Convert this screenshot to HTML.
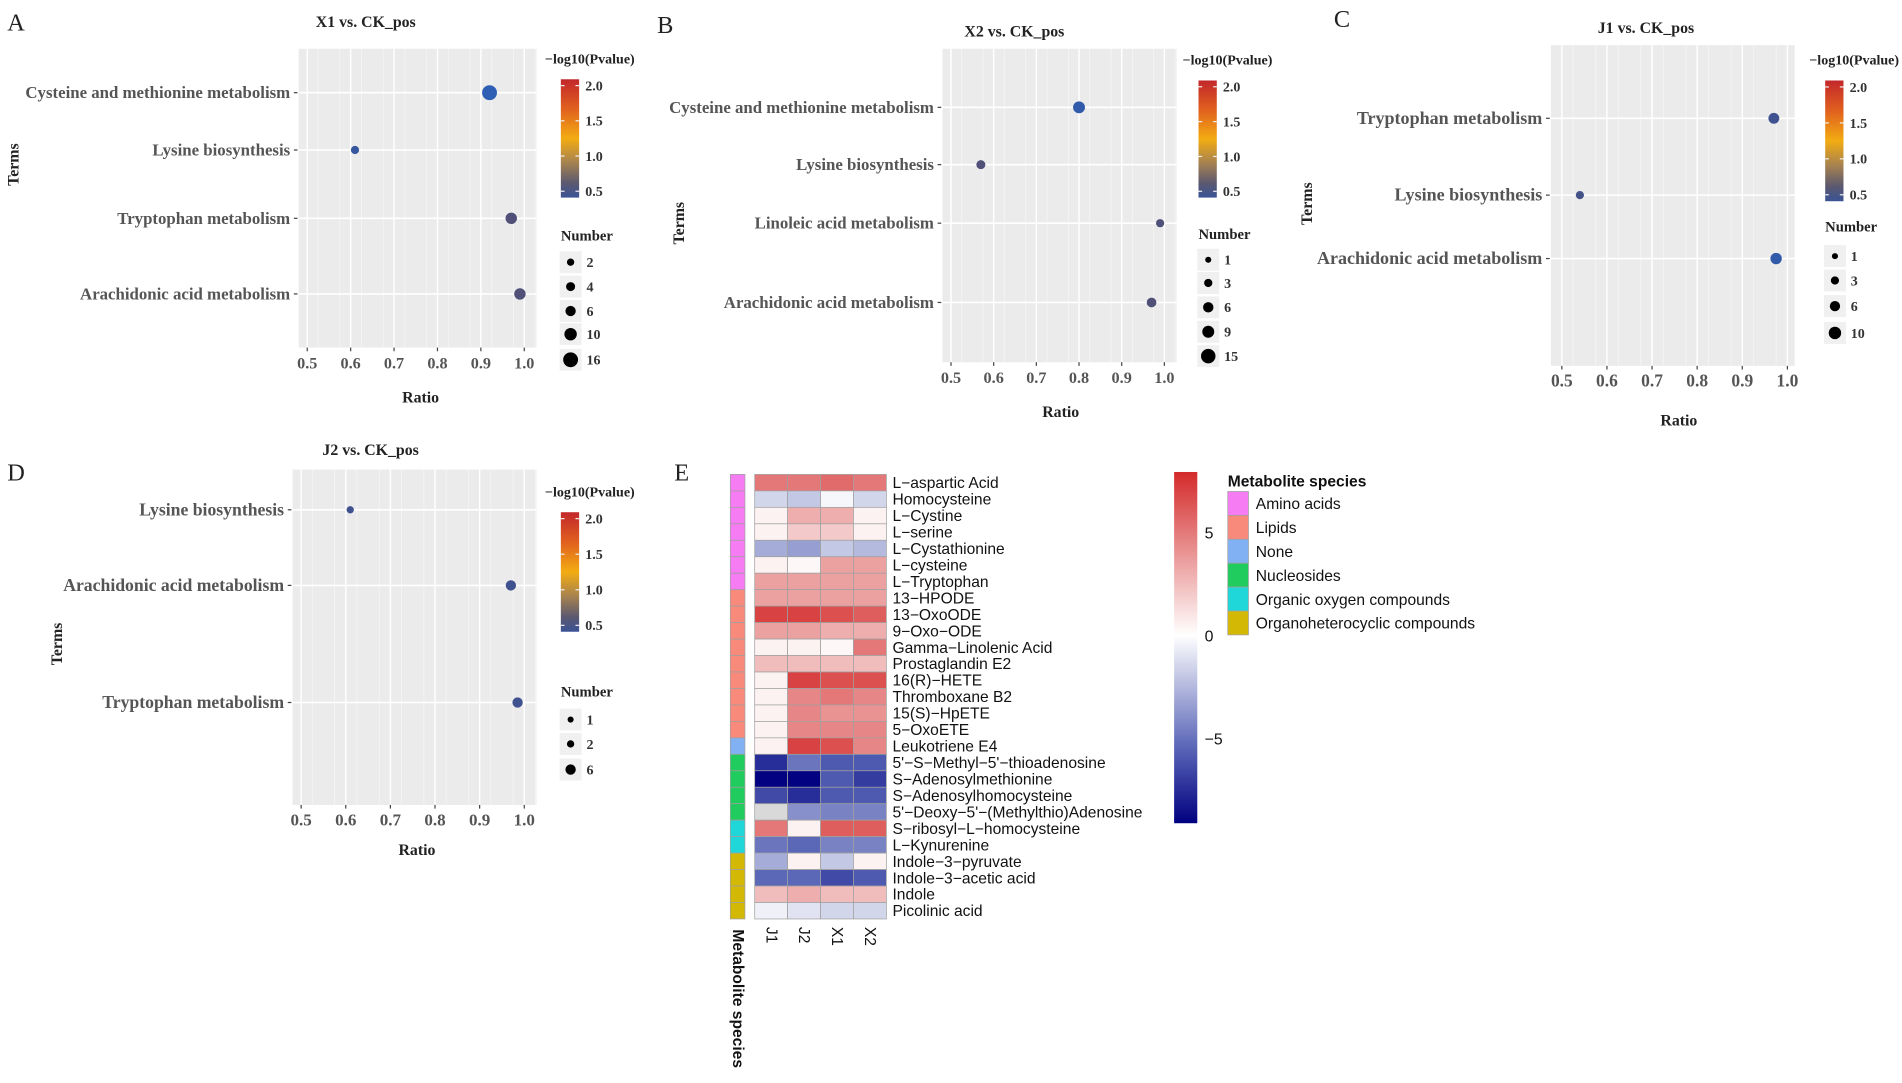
<!DOCTYPE html>
<html><head><meta charset="utf-8"><style>
html,body{margin:0;padding:0;background:#fff;}
svg{display:block;}
.ser{font-family:"Liberation Serif",serif;font-weight:bold;}
.san{font-family:"Liberation Sans",sans-serif;}
</style></head><body>
<svg id="fig" xmlns="http://www.w3.org/2000/svg" width="1902" height="1083" viewBox="0 0 1560 888" preserveAspectRatio="none">
<defs>
<linearGradient id="pgrad" x1="0" y1="0" x2="0" y2="1">
<stop offset="0" stop-color="#c3272b"/><stop offset="0.25" stop-color="#e0601f"/><stop offset="0.5" stop-color="#f3ac12"/><stop offset="0.7" stop-color="#a8834f"/><stop offset="0.88" stop-color="#5a5870"/><stop offset="1" stop-color="#3a5396"/>
</linearGradient>
<linearGradient id="hgrad" x1="0" y1="0" x2="0" y2="1">
<stop offset="0" stop-color="#d42a2a"/><stop offset="0.465" stop-color="#ffffff"/><stop offset="0.78" stop-color="#5c68b8"/><stop offset="1" stop-color="#000080"/>
</linearGradient>
</defs>
<g id="root"></g>
</svg>
<script>
// ---------- bubble chart data ----------
const aTerms=["Cysteine and methionine metabolism","Lysine biosynthesis","Tryptophan metabolism","Arachidonic acid metabolism"];
const aRatio=[0.92,0.61,0.97,0.99];
const aNumber=[16,3,8,8];
const aLogP=[0.36,0.4,0.55,0.55];
const aSizeKeys=[2,4,6,10,16];

const bTerms=["Cysteine and methionine metabolism","Lysine biosynthesis","Linoleic acid metabolism","Arachidonic acid metabolism"];
const bRatio=[0.80,0.57,0.99,0.97];
const bNumber=[9,4,3,5];
const bLogP=[0.38,0.55,0.55,0.55];
const bSizeKeys=[1,3,6,9,15];

const cTerms=["Tryptophan metabolism","Lysine biosynthesis","Arachidonic acid metabolism"];
const cRatio=[0.97,0.54,0.975];
const cNumber=[7,3,8];
const cLogP=[0.45,0.48,0.38];
const cSizeKeys=[1,3,6,10];

const dTerms=["Lysine biosynthesis","Arachidonic acid metabolism","Tryptophan metabolism"];
const dRatio=[0.61,0.97,0.985];
const dNumber=[2,6,6];
const dLogP=[0.45,0.45,0.45];
const dSizeKeys=[1,2,6];

// ---------- heatmap data ----------
const hmRows=["L\u2212aspartic Acid","Homocysteine","L\u2212Cystine","L\u2212serine","L\u2212Cystathionine","L\u2212cysteine","L\u2212Tryptophan","13\u2212HPODE","13\u2212OxoODE","9\u2212Oxo\u2212ODE","Gamma\u2212Linolenic Acid","Prostaglandin E2","16(R)\u2212HETE","Thromboxane B2","15(S)\u2212HpETE","5\u2212OxoETE","Leukotriene E4","5'\u2212S\u2212Methyl\u22125'\u2212thioadenosine","S\u2212Adenosylmethionine","S\u2212Adenosylhomocysteine","5'\u2212Deoxy\u22125'\u2212(Methylthio)Adenosine","S\u2212ribosyl\u2212L\u2212homocysteine","L\u2212Kynurenine","Indole\u22123\u2212pyruvate","Indole\u22123\u2212acetic acid","Indole","Picolinic acid"];
const hmCols=["J1","J2","X1","X2"];
const hmJ1=[5,-1.5,0.5,0.5,-3,0.5,3.5,3.5,7,3.5,0.5,2.5,0.5,0.5,0.5,0.5,0.5,-7.5,-9,-6.5,null,5,-5,-3,-5.5,2.5,-0.5];
const hmJ2=[5,-2,3,2,-3.5,0.3,3.5,3.5,7,3.5,0.5,2.5,7,4.5,4.5,4.5,7,-5,-9,-7.5,-4,0.5,-5.5,0.5,-5.5,3,-1];
const hmX1=[5.5,-0.3,3,2,-2,3.5,3.5,3.5,6.5,3,0.3,2.5,6.5,5,4,4.5,6.5,-6,-6,-6,-4.5,6,-4.5,-2,-6.5,2.5,-1.5];
const hmX2=[5,-1.5,0.5,0.5,-2.5,3.5,3.5,3.5,6,3,5,2.5,6.5,4.5,4,4.5,4.5,-6,-7,-6,-4.5,6,-4.5,0.5,-6,2.5,-1.5];
const hmSpecies=[0,0,0,0,0,0,0,1,1,1,1,1,1,1,1,1,2,3,3,3,3,4,4,5,5,5,5];
const speciesNames=["Amino acids","Lipids","None","Nucleosides","Organic oxygen compounds","Organoheterocyclic compounds"];
const speciesColors=["#f57cf3","#f88a7c","#82b1f3","#1fcc5d","#1fd6d8","#d3b806"];
const hmTicks=[5,0,-5];

const NS="http://www.w3.org/2000/svg";
const root=document.getElementById('root');
function el(tag,attrs,parent,text){const e=document.createElementNS(NS,tag);for(const k in attrs)e.setAttribute(k,attrs[k]);if(text!==undefined)e.textContent=text;(parent||root).appendChild(e);return e;}

function pColor(v){
  const stops=[[0.36,[45,95,180]],[0.42,[58,83,150]],[0.55,[80,80,120]],[0.8,[168,131,79]],[1.15,[243,172,18]],[1.6,[224,96,31]],[2.09,[195,39,43]]];
  if(v<=stops[0][0])return 'rgb('+stops[0][1]+')';
  for(let i=1;i<stops.length;i++){if(v<=stops[i][0]){const t=(v-stops[i-1][0])/(stops[i][0]-stops[i-1][0]);const a=stops[i-1][1],b=stops[i][1];return 'rgb('+a.map((x,j)=>Math.round(x+(b[j]-x)*t)).join(',')+')';}}
  return 'rgb('+stops[stops.length-1][1]+')';
}
function rad(n){return 1.2*Math.sqrt(n)+1.3;}

function bubble(cfg){
  const g=el('g',{},root);
  
  
  const fs=cfg.fs;
  const L=el('text',{x:cfg.letter[0],y:cfg.letter[1],'font-size':20,'font-family':'"Liberation Serif",serif',fill:'#222'},g,cfg.letterText);
  
  const T=el('text',{x:cfg.title[0],y:cfg.title[1],'font-size':13,class:'ser','text-anchor':'middle',fill:'#222'},g,cfg.titleText);
  
  const p=cfg.plot;
  const bg=el('rect',{x:p[0],y:p[1],width:p[2]-p[0],height:p[3]-p[1],fill:'#ebebeb'},g);
  
  const xs=v=>cfg.x05+(v-0.5)/0.5*(cfg.x10-cfg.x05);
  for(let v=0.475;v<=1.03;v+=0.05){const x=xs(v);if(x>p[0]&&x<p[2])el('line',{x1:x,x2:x,y1:p[1],y2:p[3],stroke:'#f6f6f6','stroke-width':0.6},g);}
  const ticks=[0.5,0.6,0.7,0.8,0.9,1.0];
  ticks.forEach(v=>{const x=xs(v);el('line',{x1:x,x2:x,y1:p[1],y2:p[3],stroke:'#fff','stroke-width':1.2},g);
    el('line',{x1:x,x2:x,y1:p[3],y2:p[3]+3,stroke:'#444'},g);
    const t=el('text',{x:x,y:p[3]+17,'font-size':fs-0.5,class:'ser','text-anchor':'middle',fill:'#555'},g,v.toFixed(1));
    });
  cfg.terms.forEach((term,i)=>{const y=cfg.rows[i];
    el('line',{x1:p[0],x2:p[2],y1:y,y2:y,stroke:'#fff','stroke-width':1.3},g);
    el('line',{x1:p[0]-4,x2:p[0]-1,y1:y,y2:y,stroke:'#444'},g);
    const t=el('text',{x:p[0]-7,y:y+4.5,'font-size':fs,class:'ser','text-anchor':'end',fill:'#555'},g,term);
    
    const c=el('circle',{cx:xs(cfg.ratio[i]),cy:y,r:rad(cfg.number[i]),fill:pColor(cfg.logp[i])},g);
    
  });
  const xt=el('text',{x:cfg.ratioPos[0],y:cfg.ratioPos[1],'font-size':13,class:'ser','text-anchor':'middle',fill:'#222'},g,'Ratio');
  
  const yt=el('text',{x:0,y:0,'font-size':13,class:'ser','text-anchor':'middle',fill:'#222',transform:'translate('+cfg.termsPos[0]+','+cfg.termsPos[1]+') rotate(-90)'},g,'Terms');
  
  const cb=cfg.cbar;
  const lt=el('text',{x:cb[0]-13,y:cb[1]-13,'font-size':11.5,class:'ser',fill:'#222'},g,'\u2212log10(Pvalue)');
  
  const r=el('rect',{x:cb[0],y:cb[1],width:15,height:cb[2]-cb[1],fill:'url(#pgrad)'},g);
  
  const ys=v=>cb[1]+(2.09-v)/(2.09-0.41)*(cb[2]-cb[1]);
  [2.0,1.5,1.0,0.5].forEach(v=>{const y=ys(v);el('line',{x1:cb[0],x2:cb[0]+3,y1:y,y2:y,stroke:'#eee'},g);el('line',{x1:cb[0]+12,x2:cb[0]+15,y1:y,y2:y,stroke:'#eee'},g);
    const t=el('text',{x:cb[0]+20,y:y+4,'font-size':11.5,class:'ser',fill:'#333'},g,v.toFixed(1));});
  const nt=el('text',{x:cb[0],y:cfg.numTitle,'font-size':12,class:'ser',fill:'#222'},g,'Number');
  
  cfg.keys.forEach((k,i)=>{const y=cfg.keyY[i];
    el('rect',{x:cb[0]-1,y:y-9,width:18,height:18,fill:'#f0f0f0'},g);
    const c=el('circle',{cx:cb[0]+8,cy:y,r:rad(k),fill:'#000'},g);
    const t=el('text',{x:cb[0]+21,y:y+4,'font-size':11.5,class:'ser',fill:'#333'},g,String(k));});
}

bubble({id:'a',fs:13.8,letterText:'A',letter:[6,25],titleText:'X1 vs. CK_pos',title:[300,22],plot:[245,40,440,285],x05:252,x10:430,rows:[76,123,179,241],terms:aTerms,ratio:aRatio,number:aNumber,logp:aLogP,ratioPos:[345,330],termsPos:[15,135],cbar:[460,65,162],numTitle:197,keys:aSizeKeys,keyY:[215,235,255,274,295]});
bubble({id:'b',fs:13.8,letterText:'B',letter:[539,27],titleText:'X2 vs. CK_pos',title:[832,30],plot:[773,40,965,297],x05:780,x10:955,rows:[88,135,183,248],terms:bTerms,ratio:bRatio,number:bNumber,logp:bLogP,ratioPos:[870,342],termsPos:[561,183],cbar:[983,66,162],numTitle:196,keys:bSizeKeys,keyY:[213,232,252,272,292]});
bubble({id:'c',fs:14.8,letterText:'C',letter:[1094,22],titleText:'J1 vs. CK_pos',title:[1350,27],plot:[1272,37,1472,300],x05:1281,x10:1466,rows:[97,160,212],terms:cTerms,ratio:cRatio,number:cNumber,logp:cLogP,ratioPos:[1377,349],termsPos:[1076,167],cbar:[1497,66,165],numTitle:190,keys:cSizeKeys,keyY:[210,230,251,273]});
bubble({id:'d',fs:14.5,letterText:'D',letter:[6,394],titleText:'J2 vs. CK_pos',title:[304,373],plot:[240,385,440,660],x05:247,x10:430,rows:[418,480,576],terms:dTerms,ratio:dRatio,number:dNumber,logp:dLogP,ratioPos:[342,701],termsPos:[51,528],cbar:[460,420,518],numTitle:571,keys:dSizeKeys,keyY:[590,610,631]});

// ---------- heatmap ----------
(function(){
  const g=el('g',{},root);
  
  const L=el('text',{x:553,y:394,'font-size':20,'font-family':'"Liberation Serif",serif',fill:'#222'},g,'E');
  
  const x0=619,cw=27,y0=389,rh=13.5,sx=599;
  const cols=[hmJ1,hmJ2,hmX1,hmX2];
  function hcol(v){
    if(v===null)return '#d9d9d9';
    if(v>=0){const t=Math.min(v/7.9,1);const a=[255,255,255],b=[212,42,42];return 'rgb('+a.map((x,j)=>Math.round(x+(b[j]-x)*t)).join(',')+')';}
    const t=Math.min(-v/9.1,1);
    let a,b,u;
    if(t<0.6){a=[255,255,255];b=[92,104,184];u=t/0.6;}else{a=[92,104,184];b=[0,0,128];u=(t-0.6)/0.4;}
    return 'rgb('+a.map((x,j)=>Math.round(x+(b[j]-x)*u)).join(',')+')';
  }
  hmRows.forEach((name,i)=>{const y=y0+i*rh;
    const s=el('rect',{x:sx,y:y,width:12,height:rh,fill:speciesColors[hmSpecies[i]],stroke:'#a0a0a0','stroke-width':0.6},g);
    
    cols.forEach((arr,j)=>{const c=el('rect',{x:x0+j*cw,y:y,width:cw,height:rh,fill:hcol(arr[i]),stroke:'#a0a0a0','stroke-width':0.6},g);
      });
    const t=el('text',{x:732,y:y+rh/2+4.5,'font-size':12.8,class:'san',fill:'#111'},g,name);
    
  });
  hmCols.forEach((c,j)=>{const x=x0+j*cw+cw/2;
    const t=el('text',{x:0,y:0,'font-size':12.8,class:'san',fill:'#111',transform:'translate('+(x-4)+',760) rotate(90)'},g,c);
    });
  const ms=el('text',{x:0,y:0,'font-size':12.8,class:'san','font-weight':'bold',fill:'#111',transform:'translate('+(sx+2)+',762) rotate(90)'},g,'Metabolite species');
  
  const cb=el('rect',{x:963,y:387,width:19,height:288,fill:'url(#hgrad)'},g);
  
  hmTicks.forEach(v=>{const y=521-v*16.9;
    const t=el('text',{x:988,y:y+5,'font-size':13,class:'san',fill:'#111'},g,v<0?'\u2212'+(-v):String(v));
    });
  const lt=el('text',{x:1007,y:399,'font-size':12.8,class:'san','font-weight':'bold',fill:'#111'},g,'Metabolite species');
  
  speciesNames.forEach((n,i)=>{const y=403+i*19.6;
    const r=el('rect',{x:1007,y:y,width:17,height:19.6,fill:speciesColors[i],stroke:'#a0a0a0','stroke-width':0.6},g);
    
    const t=el('text',{x:1030,y:y+14.5,'font-size':12.8,class:'san',fill:'#111'},g,n);
    });
})();
</script>
</body></html>
